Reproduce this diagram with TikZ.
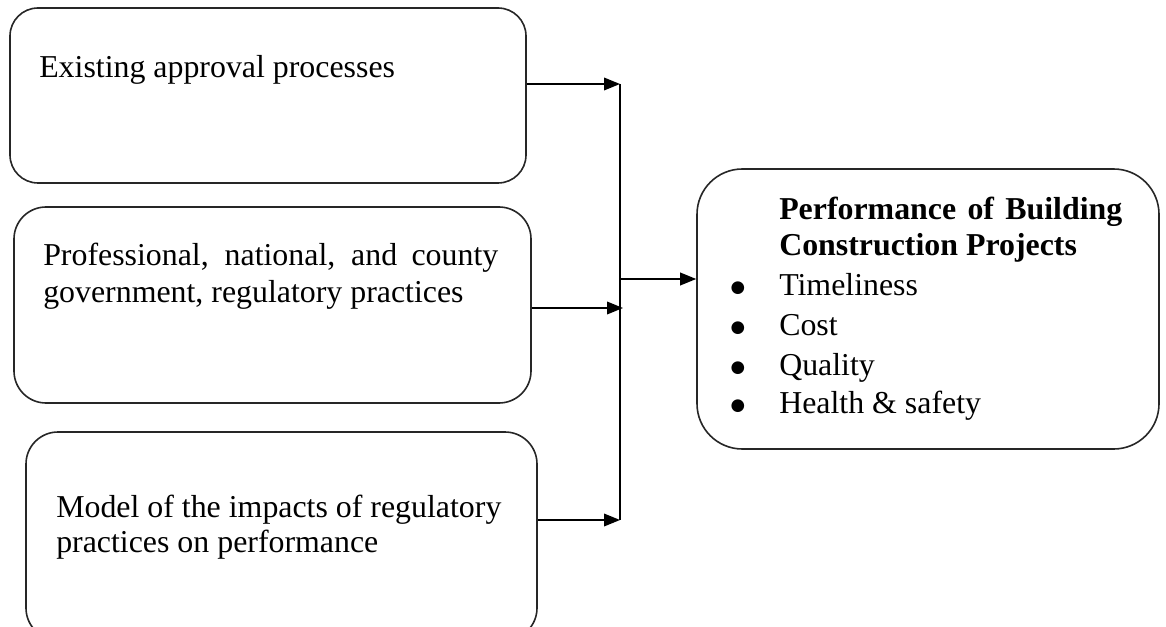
\documentclass[tikz,border=0pt]{standalone}
\usepackage{fontspec}
\setmainfont{Liberation Serif}
\newfontfamily\bulletfont{DejaVu Sans}
\usetikzlibrary{arrows.meta}
\begin{document}
\begin{tikzpicture}[x=0.75pt,y=-0.75pt,
  box/.style={draw=black!85, line width=1.2pt, inner sep=0pt, fill=none},
  txt/.style={anchor=base west, inner sep=0pt, font=\fontsize{23.9}{28}\selectfont},
  dot/.style={anchor=base, inner sep=0pt, font=\bulletfont\fontsize{12.5}{14}\selectfont},
  link/.style={line width=1.1pt, -{Triangle[length=12pt,width=9.5pt]}},
  bus/.style={line width=1.1pt}]
\useasboundingbox (0,0) rectangle (1166,627);
\clip (0,0) rectangle (1166,627);

% input boxes
\node[box, rounded corners=21pt, minimum width=387pt, minimum height=131.25pt] (b1) at (268,95.5) {};
\node[box, rounded corners=24pt, minimum width=387.75pt, minimum height=147pt] (b2) at (272.5,305) {};
\node[box, rounded corners=24pt, minimum width=383.25pt, minimum height=156pt] (b3) at (281.5,536) {};
% outcome box
\node[box, rounded corners=34pt, minimum width=346.5pt, minimum height=210pt] (out) at (928,309) {};

% box texts
\node[txt] (t1) at (39,78) {Existing approval processes};
\node[txt] (t2a) at (43,266) {\makebox[341.25pt][s]{Professional, national, and county}};
\node[txt] (t2b) at (43,302) {government, regulatory practices};
\node[txt] (t3a) at (56,517) {Model of the impacts of regulatory};
\node[txt] (t3b) at (56,552) {practices on performance};

\node[txt] (h1) at (779,220) {\makebox[257.25pt][s]{\bfseries Performance of Building}};
\node[txt] (h2) at (779,255) {\bfseries Construction Projects};
\node[dot] (d1) at (738,292) {●};
\node[txt] (i1) at (779,295) {Timeliness};
\node[dot] (d2) at (738,332) {●};
\node[txt] (i2) at (779,335) {Cost};
\node[dot] (d3) at (738,372) {●};
\node[txt] (i3) at (779,375) {Quality};
\node[dot] (d4) at (738,410) {●};
\node[txt] (i4) at (779,413) {Health \& safety};

% connectors into the collecting line
\coordinate (j1) at (620,84);
\coordinate (j2) at (623,308);
\coordinate (j3) at (620,520);
\coordinate (jout) at (621,279);
\draw[bus] (j1) -- (j3);
\draw[link] (b1.east |- j1) -- (j1);
\draw[link] (b2.east |- j2) -- (j2);
\draw[link] (b3.east |- j3) -- (j3);
\draw[link] (jout) -- (out.west |- jout);
\end{tikzpicture}
\end{document}
